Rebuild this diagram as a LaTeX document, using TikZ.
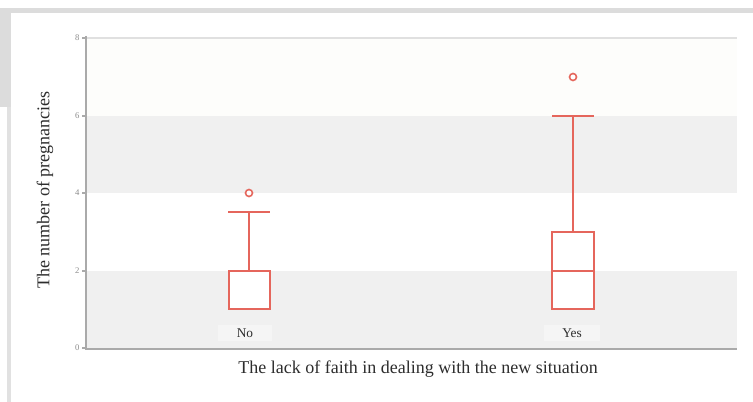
\documentclass[tikz,border=0pt]{standalone}
\usepackage{fontspec}
\setmainfont{Liberation Serif}
\definecolor{boxred}{RGB}{229,102,92}
\definecolor{bandgray}{RGB}{240,240,240}
\definecolor{faint}{RGB}{253,253,251}
\definecolor{axisgray}{RGB}{170,170,170}
\definecolor{framegray}{RGB}{220,220,220}
\definecolor{ticktext}{RGB}{140,140,140}
\definecolor{titletext}{RGB}{45,45,45}
\begin{document}
\begin{tikzpicture}[x=0.75pt,y=-0.75pt,
  boxline/.style={draw=boxred,line width=1.5pt},
  outlier/.style={draw=boxred,line width=1.2pt,fill=white},
  axisline/.style={draw=axisgray,line width=1.3pt},
  ticklab/.style={font=\fontsize{6.5}{7}\selectfont,text=ticktext,anchor=east,inner sep=1pt},
  catlab/.style={font=\fontsize{10}{12}\selectfont,text=titletext,fill=black!4,inner xsep=14pt,inner ysep=3pt},
  title/.style={font=\fontsize{13.5}{16}\selectfont,text=titletext}]
\useasboundingbox (0,0) rectangle (753,402);
\fill[white] (0,0) rectangle (753,402);
% page frame
\fill[framegray] (0,8) rectangle (753,13);
\fill[framegray] (0,13) rectangle (11,107);
\fill[framegray!85] (7,107) rectangle (11,402);
% bands
\fill[faint] (87,38) rectangle (737,116);
\fill[bandgray] (87,116) rectangle (737,193);
\fill[bandgray] (87,271) rectangle (737,348);
\draw[black!12,line width=0.8pt] (87,38) -- (737,38);
% axes
\draw[axisline] (86,36) -- (86,349) -- (737,349);
\foreach \v/\yy in {0/348,2/271,4/193,6/116,8/38}{
  \draw[axisgray,line width=0.8pt] (82,\yy) -- (86,\yy);
  \node[ticklab] (t\v) at (81,\yy) {\v};
}
% category labels
\node[catlab] (no) at (245,333) {No};
\node[catlab] (yes) at (572,333) {Yes};
% box No
\draw[boxline] (249,271) -- (249,212);
\draw[boxline] (228,212) -- (270,212);
\draw[boxline,fill=white] (229,271) rectangle (270,309);
\draw[outlier] (249,193) circle (3.5);
% box Yes
\draw[boxline] (573,232) -- (573,116);
\draw[boxline] (552,116) -- (594,116);
\draw[boxline,fill=white] (552,232) rectangle (594,309);
\draw[boxline] (552,271) -- (594,271);
\draw[outlier] (573,77) circle (3.5);
% titles
\node[title] (xt) at (418,369) {The lack of faith in dealing with the new situation};
\node[title,rotate=90] (yt) at (45,190) {The number of pregnancies};
\end{tikzpicture}
\end{document}
